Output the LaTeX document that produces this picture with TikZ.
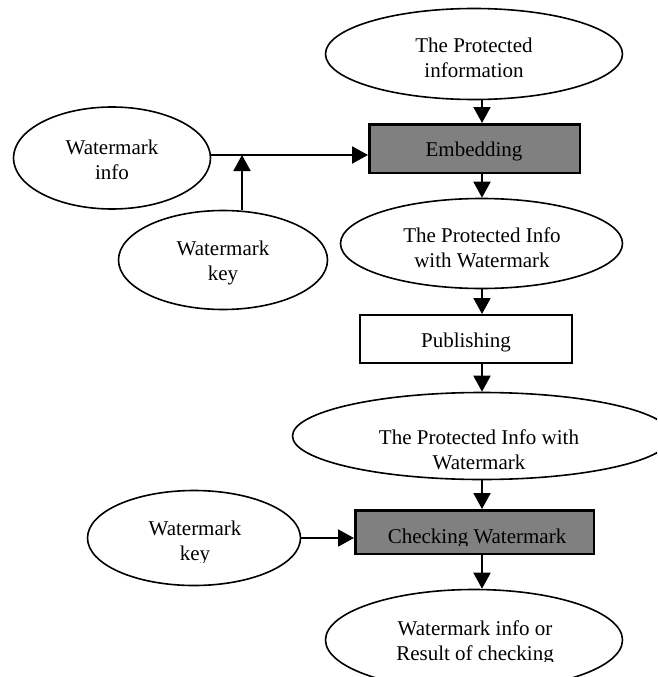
\documentclass[tikz,border=0pt]{standalone}
\usepackage{fontspec}
\setmainfont{Liberation Serif}
\usetikzlibrary{arrows.meta,shapes.geometric}
\definecolor{boxgray}{RGB}{128,128,128}
\begin{document}
\begin{tikzpicture}[x=1pt,y=-1pt,
  ell/.style={draw, ellipse, line width=1.6pt, inner sep=0pt},
  rectbox/.style={draw, rectangle, inner sep=0pt},
  txt/.style={font=\fontsize{21}{25}\selectfont, align=center, inner sep=0pt, text=black},
  arr/.style={line width=2pt, -{Triangle[width=17pt,length=16pt]}},
]
\clip (0,0) rectangle (657,677);
% ellipses
\node[ell, minimum width=297pt, minimum height=91pt] (prot) at (474,54) {};
\node[ell, minimum width=282pt, minimum height=90pt] (wm1) at (481.5,243.5) {};
\node[ell, minimum width=379pt, minimum height=87pt] (wm2) at (482,436) {};
\node[ell, minimum width=297pt, minimum height=101pt] (out) at (474,640) {};
\node[ell, minimum width=197pt, minimum height=102pt] (info) at (112,158) {};
\node[ell, minimum width=209pt, minimum height=99pt] (key1) at (223,260) {};
\node[ell, minimum width=213pt, minimum height=95pt] (key2) at (194,538) {};
% boxes
\node[rectbox, fill=boxgray, line width=2.5pt, minimum width=210.5pt, minimum height=48.5pt] (emb) at (474.5,148.5) {};
\node[rectbox, line width=2pt, minimum width=212pt, minimum height=48pt] (pub) at (466,339) {};
\node[rectbox, fill=boxgray, line width=2.5pt, minimum width=238.5pt, minimum height=43.5pt] (chk) at (474.5,532) {};
% texts
\node[txt, anchor=north] (tprot) at (474,37.7) {The Protected\\information};
\node[txt, anchor=north] (twm1) at (482,227.7) {The Protected Info\\with Watermark};
\node[txt, anchor=north] (twm2) at (479,429.5) {The Protected Info with\\Watermark};
\node[txt, anchor=north] (tinfo) at (112,139.7) {Watermark\\info};
\node[txt, anchor=north] (tkey1) at (223,240.7) {Watermark\\key};
\node[txt, anchor=base] (temb) at (474,156.5) {Embedding};
\node[txt, anchor=base] (tpub) at (466,347) {Publishing};
\begin{scope}
  \clip (60,480) rectangle (330,562);
  \node[txt, anchor=north] (tkey2) at (195,520.7) {Watermark\\key};
\end{scope}
\begin{scope}
  \clip (360,515) rectangle (590,545.5);
  \node[txt, anchor=base] (tchk) at (477,543) {Checking Watermark};
\end{scope}
\begin{scope}
  \clip (330,600) rectangle (620,661.5);
  \node[txt, anchor=north] (tout) at (475,621) {Watermark info or\\Result of checking};
\end{scope}
% connectors
\coordinate (ax) at (482,0);
\coordinate (j) at (242,155);
\draw[arr] (prot.south -| ax) -- (emb.north -| ax);
\draw[arr] (emb.south -| ax) -- (wm1.north -| ax);
\draw[arr] (wm1.south -| ax) -- (pub.north -| ax);
\draw[arr] (pub.south -| ax) -- (wm2.north -| ax);
\draw[arr] (wm2.south -| ax) -- (chk.north -| ax);
\draw[arr] (chk.south -| ax) -- (out.north -| ax);
\draw[arr] (info.east |- j) -- (emb.west |- j);
\draw[arr] (key1.north -| j) -- (j);
\draw[arr] (key2.east) -- (chk.west |- key2.east);
\end{tikzpicture}
\end{document}
